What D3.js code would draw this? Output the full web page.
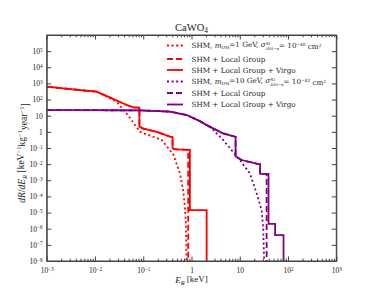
<!DOCTYPE html>
<html>
<head>
<meta charset="utf-8">
<script src="https://cdn.jsdelivr.net/npm/d3@7"></script>
<style>
  body { margin: 0; background: #fff; }
  svg text { font-family: "Liberation Serif", "DejaVu Serif", serif; fill: #222; }
  .axis path, .axis line { stroke: #444; }
  .legend text { font-family: "DejaVu Serif", serif; }
</style>
</head>
<body>
<div id="chart"></div>
<script>
// --- data ---
// m_DM = 1 GeV (red)
const red_shm_E   = [0.001, 0.003, 0.0108, 0.028, 0.048, 0.0855, 0.24, 0.42, 0.575, 0.67, 0.73, 0.766, 0.79];
const red_shm_R   = [630, 450, 310, 74, 11, 1.0, 0.32, 0.04, 0.0027, 2.5e-4, 2.3e-5, 2.2e-6, 1e-8];
const red_lg_E    = [0.001, 0.003, 0.0108, 0.0222, 0.0453, 0.062, 0.0834, 0.0834, 0.1, 0.2, 0.357, 0.406, 0.406, 0.43, 0.49, 0.855, 0.855];
const red_lg_R    = [630, 450, 310, 120, 46, 33, 32, 2.1, 1.6, 0.95, 0.5, 0.48, 0.1, 0.088, 0.083, 0.077, 1e-8];
const red_lgv_E   = [0.001, 0.003, 0.0108, 0.0222, 0.0453, 0.062, 0.0834, 0.0834, 0.1, 0.2, 0.357, 0.406, 0.406, 0.43, 0.49, 0.927, 0.927, 2.06, 2.06];
const red_lgv_R   = [630, 450, 310, 120, 46, 33, 32, 2.1, 1.6, 0.95, 0.5, 0.48, 0.1, 0.088, 0.083, 0.076, 1.4e-5, 1.4e-5, 1e-8];
// m_DM = 10 GeV (purple)
const pur_shm_E   = [0.001, 0.0855, 0.357, 0.8, 1.49, 2.6, 4.5, 10, 16.2, 22.3, 28.3, 30.5, 32];
const pur_shm_R   = [22.5, 21.5, 18, 11, 4.6, 1.66, 0.32, 0.018, 0.0027, 1.6e-4, 1.45e-5, 1.3e-6, 1e-8];
const pur_lg_E    = [0.001, 0.0855, 0.357, 0.8, 1.49, 2.08, 3.9, 4.5, 7.9, 8.2, 8.2, 10.9, 24.3, 26.4, 26.4, 36, 36];
const pur_lg_R    = [22.5, 21.5, 18, 11, 4.6, 2.6, 1.0, 0.81, 0.5, 0.49, 0.03, 0.018, 0.01, 0.0098, 0.0025, 0.0025, 1e-8];
const pur_lgv_E   = [0.001, 0.0855, 0.357, 0.8, 1.49, 2.08, 3.9, 4.5, 7.9, 8.2, 8.2, 10.9, 24.3, 26.4, 26.4, 39.4, 39.4, 54, 54, 80.7, 80.7];
const pur_lgv_R   = [22.5, 21.5, 18, 11, 4.6, 2.6, 1.0, 0.81, 0.5, 0.49, 0.03, 0.018, 0.01, 0.0098, 0.0025, 0.0025, 2e-6, 2e-6, 4e-7, 4e-7, 1e-8];

const xDecades = [-3, -2, -1, 0, 1, 2, 3];
const yDecades = [-8, -7, -6, -5, -4, -3, -2, -1, 0, 1, 2, 3, 4, 5];

const series = [
  {E: red_shm_E, R: red_shm_R, color: "#ff0000", dash: "2,2.6", mass: "1", sigma: "\u221240"},
  {E: red_lg_E,  R: red_lg_R,  color: "#ff0000", dash: "6,3", label: "SHM + Local Group"},
  {E: red_lgv_E, R: red_lgv_R, color: "#ff0000", dash: null, label: "SHM + Local Group + Virgo"},
  {E: pur_shm_E, R: pur_shm_R, color: "#800080", dash: "2,2.6", mass: "10", sigma: "\u221243"},
  {E: pur_lg_E,  R: pur_lg_R,  color: "#800080", dash: "6,3", label: "SHM + Local Group"},
  {E: pur_lgv_E, R: pur_lgv_R, color: "#800080", dash: null, label: "SHM + Local Group + Virgo"}
];

const W = 374, H = 299;
const margin = {top: 35, right: 37.7, bottom: 38, left: 46.7};
const width = W - margin.left - margin.right,
      height = H - margin.top - margin.bottom;

const svg = d3.select("#chart").append("svg")
    .attr("width", W).attr("height", H);
const g = svg.append("g")
    .attr("transform", "translate(" + margin.left + "," + margin.top + ")");

const x = d3.scaleLog().domain([1e-3, 1e3]).range([0, width]);
const y = d3.scaleLog().domain([1e-8, 1e6]).range([height, 0]);

g.append("defs").append("clipPath").attr("id", "clip")
  .append("rect").attr("width", width).attr("height", height);

const line = d3.line()
    .x(d => x(d[0]))
    .y(d => y(d[1]));

// curves
g.append("g").attr("clip-path", "url(#clip)")
  .selectAll("path")
  .data(series)
  .enter().append("path")
    .attr("d", s => line(s.E.map((e, i) => [e, s.R[i]])))
    .attr("fill", "none")
    .attr("stroke", s => s.color)
    .attr("stroke-width", 1.8)
    .attr("stroke-dasharray", s => s.dash);

// minor x ticks
const xMinor = [];
xDecades.slice(0, -1).forEach(p => { for (let k = 2; k < 10; k++) xMinor.push(k * Math.pow(10, p)); });

function sup(sel, base, exp) {
  sel.text(null);
  sel.append("tspan").text(base);
  if (exp !== null) sel.append("tspan").attr("dy", "-0.45em").attr("font-size", "70%").text(exp);
}
function decadeLabel(sel, p) {
  if (p === 0) sup(sel, "1", null);
  else if (p === 1) sup(sel, "10", null);
  else sup(sel, "10", p < 0 ? "\u2212" + (-p) : String(p));
}

// bottom axis
const xb = g.append("g").attr("class", "axis")
    .attr("transform", "translate(0," + height + ")")
    .call(d3.axisBottom(x).tickValues(xDecades.map(p => Math.pow(10, p)))
      .tickSizeInner(-4.5).tickSizeOuter(0).tickPadding(7));
xb.selectAll(".tick text").attr("font-size", 7.5)
  .each(function(d) { decadeLabel(d3.select(this), Math.round(Math.log10(d))); });
g.append("g").attr("class", "axis")
    .attr("transform", "translate(0," + height + ")")
    .call(d3.axisBottom(x).tickValues(xMinor).tickFormat("").tickSizeInner(-2.3).tickSizeOuter(0));

// top axis
g.append("g").attr("class", "axis")
    .call(d3.axisTop(x).tickValues(xDecades.map(p => Math.pow(10, p))).tickFormat("").tickSizeInner(-4.5).tickSizeOuter(0));
g.append("g").attr("class", "axis")
    .call(d3.axisTop(x).tickValues(xMinor).tickFormat("").tickSizeInner(-2.3).tickSizeOuter(0));

// left axis
const yl = g.append("g").attr("class", "axis")
    .call(d3.axisLeft(y).tickValues(yDecades.map(p => Math.pow(10, p)))
      .tickSizeInner(-4.5).tickSizeOuter(0).tickPadding(4));
yl.selectAll(".tick text").attr("font-size", 7.5)
  .each(function(d) { decadeLabel(d3.select(this), Math.round(Math.log10(d))); });

// right axis
g.append("g").attr("class", "axis")
    .attr("transform", "translate(" + width + ",0)")
    .call(d3.axisRight(y).tickValues(yDecades.map(p => Math.pow(10, p))).tickFormat("").tickSizeInner(-4.5).tickSizeOuter(0));

// frame
g.append("rect").attr("width", width).attr("height", height)
  .attr("fill", "none").attr("stroke", "#444").attr("stroke-width", 1);

// title
const title = svg.append("text").attr("x", margin.left + width / 2).attr("y", 31)
  .attr("text-anchor", "middle").attr("font-size", 10.5);
title.append("tspan").text("CaWO");
title.append("tspan").attr("dy", "0.3em").attr("font-size", "70%").text("4");

// x label
const xl = svg.append("text").attr("x", margin.left + width / 2).attr("y", 283)
  .attr("text-anchor", "middle").attr("font-size", 9);
xl.append("tspan").attr("font-style", "italic").text("E");
xl.append("tspan").attr("dy", "0.3em").attr("font-size", "70%").attr("font-style", "italic").text("R");
xl.append("tspan").attr("dy", "-0.3em").text(" [keV]");

// y label
const ylab = svg.append("text")
  .attr("transform", "translate(25," + (margin.top + height / 2 + 5) + ") rotate(-90)")
  .attr("text-anchor", "middle").attr("font-size", 9.5);
ylab.append("tspan").attr("font-style", "italic").text("dR");
ylab.append("tspan").text("/");
ylab.append("tspan").attr("font-style", "italic").text("dE");
ylab.append("tspan").attr("dy", "0.3em").attr("font-size", "70%").attr("font-style", "italic").text("R");
ylab.append("tspan").attr("dy", "-0.3em").text(" [keV");
ylab.append("tspan").attr("dy", "-0.45em").attr("font-size", "70%").text("\u22121");
ylab.append("tspan").attr("dy", "0.45em").text("kg");
ylab.append("tspan").attr("dy", "-0.45em").attr("font-size", "70%").text("\u22121");
ylab.append("tspan").attr("dy", "0.45em").text("year");
ylab.append("tspan").attr("dy", "-0.45em").attr("font-size", "70%").text("\u22121");
ylab.append("tspan").attr("dy", "0.45em").text("]");

// legend
const legY = [45.5, 59, 70, 81.5, 93, 104.5];
const fs = 7.2;
const leg = svg.append("g").attr("class", "legend");
series.forEach((s, i) => {
  const yy = legY[i];
  leg.append("line").attr("x1", 167).attr("x2", 183).attr("y1", yy).attr("y2", yy)
    .attr("stroke", s.color).attr("stroke-width", 1.8).attr("stroke-dasharray", s.dash);
  const base = yy + 2.5;
  if (s.mass) {
    const t1 = leg.append("text").attr("x", 191.5).attr("y", base).attr("font-size", fs);
    t1.append("tspan").text("SHM, ");
    t1.append("tspan").attr("font-style", "italic").text("m");
    t1.append("tspan").attr("dy", "0.3em").attr("font-size", "60%").text("DM");
    t1.append("tspan").attr("dy", "-0.3em").text("=" + s.mass + " GeV, ");
    t1.append("tspan").attr("font-style", "italic").text("\u03c3");
    const x1 = 191.5 + t1.node().getComputedTextLength() + 0.3;
    const sp = leg.append("text").attr("x", x1).attr("y", base - 3.2).attr("font-size", fs * 0.55).text("SI");
    const sb = leg.append("text").attr("x", x1).attr("y", base + 2).attr("font-size", fs * 0.55).text("DM\u2212n");
    const w = Math.max(sp.node().getComputedTextLength(), sb.node().getComputedTextLength());
    const t2 = leg.append("text").attr("x", x1 + w).attr("y", base).attr("font-size", fs);
    t2.append("tspan").text(" = 10");
    t2.append("tspan").attr("dy", "-0.45em").attr("font-size", "60%").text(s.sigma);
    t2.append("tspan").attr("dy", "0.45em").text(" cm");
    t2.append("tspan").attr("dy", "-0.45em").attr("font-size", "60%").text("2");
  } else {
    leg.append("text").attr("x", 191.5).attr("y", base).attr("font-size", fs).text(s.label);
  }
});
</script>
</body>
</html>
